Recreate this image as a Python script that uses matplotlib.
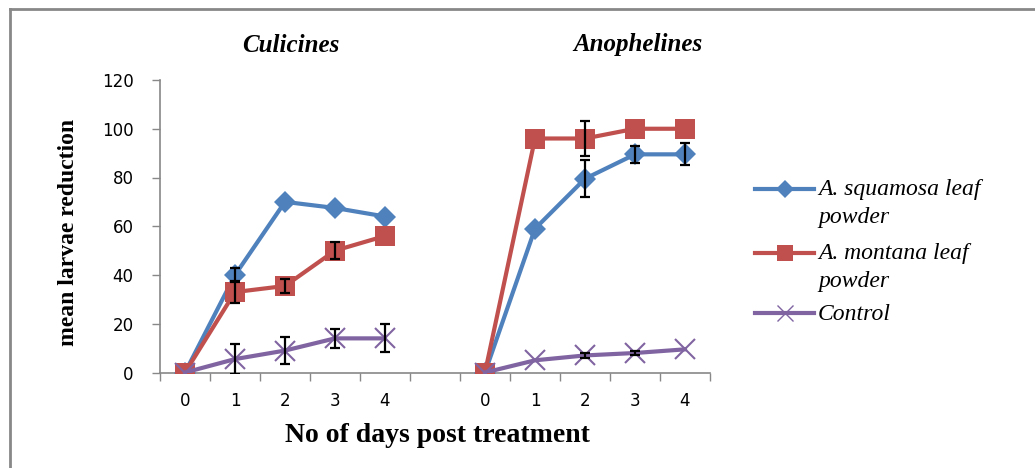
import matplotlib
matplotlib.use("Agg")
import matplotlib.pyplot as plt
from matplotlib.lines import Line2D
import numpy as np

days = ["0", "1", "2", "3", "4"]
groups = ["Culicines", "Anophelines"]
series_names = [["A. squamosa leaf", "powder"], ["A. montana leaf", "powder"], ["Control"]]

squamosa_cul = [0, 40, 70, 67.5, 64]
montana_cul = [0, 33, 35.5, 50, 56]
control_cul = [0, 5.5, 9, 14, 14]
squamosa_ano = [0, 59, 79.5, 89.5, 89.5]
montana_ano = [0, 96, 96, 100, 100]
control_ano = [0, 5, 7, 8, 9.5]

squamosa_cul_err = [0, 3, 0, 0, 0]
montana_cul_err = [0, 4.5, 3, 3.5, 0]
control_cul_err = [0, 6.3, 5.4, 3.8, 5.7]
squamosa_ano_err = [0, 0, 7.5, 3.4, 4.5]
montana_ano_err = [0, 0, 7.2, 0, 0]
control_ano_err = [0, 0, 1, 1, 0]

colors = ["#4F81BD", "#C0504D", "#8064A2"]
markers = ["D", "s", "x"]
msizes = [11, 14, 14]

W, H = 1035, 468
fig = plt.figure(figsize=(W / 100, H / 100), dpi=100)
ax = fig.add_axes([160 / W, 1 - 372.5 / H, 550 / W, (372.5 - 80) / H])

x_cul = np.arange(len(days))
x_ano = np.arange(len(days)) + len(days) + 1

cul = [squamosa_cul, montana_cul, control_cul]
ano = [squamosa_ano, montana_ano, control_ano]
cul_err = [squamosa_cul_err, montana_cul_err, control_cul_err]
ano_err = [squamosa_ano_err, montana_ano_err, control_ano_err]

for i in range(3):
    for xs, ys in ((x_cul, cul[i]), (x_ano, ano[i])):
        ax.plot(xs, ys, color=colors[i], lw=3, marker=markers[i], ms=msizes[i],
                mew=1.5 if markers[i] == "x" else 0, mec=colors[i], zorder=3 + i * 0.1)

for i in range(3):
    for xs, ys, es in ((x_cul, cul[i], cul_err[i]), (x_ano, ano[i], ano_err[i])):
        xs2 = [x for x, e in zip(xs, es) if e > 0]
        ys2 = [y for y, e in zip(ys, es) if e > 0]
        es2 = [e for e in es if e > 0]
        if xs2:
            ax.errorbar(xs2, ys2, yerr=es2, fmt="none", ecolor="black",
                        elinewidth=1.6, capsize=3.5, capthick=1.6, zorder=4)

ax.set_xlim(-0.5, 2 * len(days) + 0.5)
ax.set_ylim(0, 120)
ax.set_yticks(np.arange(0, 121, 20))
all_pos = list(x_cul) + [len(days)] + list(x_ano)
ax.set_xticks(all_pos)
ax.set_xticklabels(days + [""] + days)
ax.set_xticks(np.arange(-0.5, 2 * len(days) + 1, 1), minor=True)
ax.tick_params(axis="x", which="major", length=0, pad=14, labelsize=12)
ax.tick_params(axis="x", which="minor", length=6, color="#888888", width=1)
ax.tick_params(axis="y", length=6, color="#888888", width=1, labelsize=12, pad=13)
for lab in ax.get_xticklabels() + ax.get_yticklabels():
    lab.set_family("DejaVu Sans")
for s in ("top", "right"):
    ax.spines[s].set_visible(False)
for s in ("left", "bottom"):
    ax.spines[s].set_color("#888888")
    ax.spines[s].set_linewidth(1.2)

fig.text(68 / W, 1 - 232 / H, "mean larvae reduction", family="Liberation Serif",
         fontweight="bold", fontsize=17, rotation=90, ha="center", va="center")
fig.text(437 / W, 1 - 436 / H, "No of days post treatment", family="Liberation Serif",
         fontweight="bold", fontsize=20, ha="center", va="center")

fig.text(291 / W, 1 - 45 / H, groups[0], family="Liberation Serif", fontweight="bold",
         style="italic", fontsize=18, ha="center", va="center")
fig.text(638 / W, 1 - 45 / H, groups[1], family="Liberation Serif", fontweight="bold",
         style="italic", fontsize=18, ha="center", va="center")

# legend drawn in figure coordinates
leg_y = [189, 253, 313]
line_gap = 27
for i in range(3):
    y = 1 - leg_y[i] / H
    fig.add_artist(Line2D([755 / W, 814 / W], [y, y], color=colors[i], lw=3))
    fig.add_artist(Line2D([784.5 / W], [y], color=colors[i], marker=markers[i],
                          ms=msizes[i] * 0.8, mew=1 if markers[i] == "x" else 0,
                          mec=colors[i], lw=0))
    for k, line in enumerate(series_names[i]):
        fig.text(818 / W, 1 - (leg_y[i] + 1 + k * line_gap) / H, line,
                 family="Liberation Serif", style="italic", fontsize=17,
                 ha="left", va="center")

fig.add_artist(Line2D([10 / W, 10 / W], [0, 1 - 9 / H], color="#888888", lw=2))
fig.add_artist(Line2D([10 / W, 1], [1 - 9 / H, 1 - 9 / H], color="#888888", lw=2))

fig.savefig("out.png", dpi=100)
